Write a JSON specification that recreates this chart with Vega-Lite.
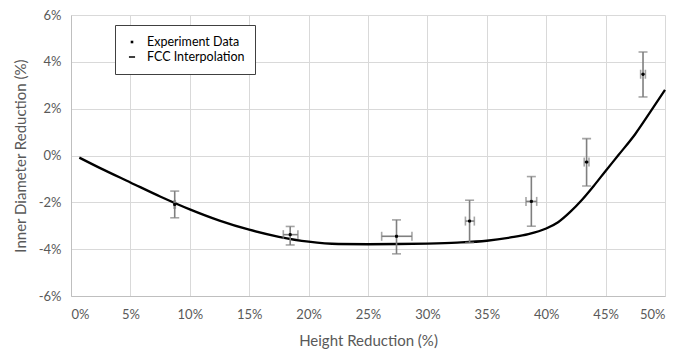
{
  "$schema": "https://vega.github.io/schema/vega-lite/v6.json",
  "width": 594,
  "height": 281,
  "autosize": "none",
  "padding": {"left": 71, "top": 15, "right": 29, "bottom": 55},
  "background": "white",
  "config": {
    "font": "Lato",
    "view": {"stroke": null},
    "axis": {
      "labelFont": "Lato",
      "titleFont": "Lato",
      "labelFontSize": 13,
      "titleFontSize": 15,
      "titleFontWeight": "normal",
      "labelColor": "#595959",
      "titleColor": "#595959",
      "gridColor": "#d9d9d9",
      "gridWidth": 1,
      "domainColor": "#bfbfbf",
      "ticks": false
    },
    "legend": {
      "orient": "none",
      "legendX": 44,
      "legendY": 10,
      "strokeColor": "#404040",
      "strokeWidth": 1,
      "fillColor": "white",
      "padding": 10,
      "labelFont": "Lato",
      "labelFontSize": 12.5,
      "labelColor": "#000000",
      "symbolSize": 150,
      "rowPadding": 1,
      "labelOffset": 8
    }
  },
  "datasets": {
    "curve": [
      {"x": 0.7, "y": -0.09},
      {"x": 2.5, "y": -0.55},
      {"x": 5, "y": -1.15},
      {"x": 7.5, "y": -1.75},
      {"x": 10, "y": -2.3},
      {"x": 12.5, "y": -2.78},
      {"x": 15, "y": -3.17},
      {"x": 17.5, "y": -3.47},
      {"x": 20, "y": -3.68},
      {"x": 22.5, "y": -3.78},
      {"x": 25, "y": -3.79},
      {"x": 27.5, "y": -3.78},
      {"x": 30, "y": -3.76},
      {"x": 32.5, "y": -3.72},
      {"x": 35, "y": -3.64},
      {"x": 37, "y": -3.5},
      {"x": 38.5, "y": -3.36},
      {"x": 40, "y": -3.12},
      {"x": 41, "y": -2.85},
      {"x": 42, "y": -2.42},
      {"x": 43, "y": -1.9},
      {"x": 44, "y": -1.3},
      {"x": 45, "y": -0.66},
      {"x": 46.1, "y": 0.03},
      {"x": 47.5, "y": 0.92},
      {"x": 48.75, "y": 1.85},
      {"x": 50, "y": 2.8}
    ],
    "points": [
      {"x": 8.73, "y": -2.09, "ylo": -2.66, "yhi": -1.52, "xlo": 8.68, "xhi": 8.78, "series": "Experiment Data"},
      {"x": 18.45, "y": -3.38, "ylo": -3.82, "yhi": -3.03, "xlo": 17.87, "xhi": 19.1, "series": "Experiment Data"},
      {"x": 27.4, "y": -3.45, "ylo": -4.2, "yhi": -2.75, "xlo": 26.15, "xhi": 28.7, "series": "Experiment Data"},
      {"x": 33.55, "y": -2.8, "ylo": -3.72, "yhi": -1.91, "xlo": 33.2, "xhi": 33.95, "series": "Experiment Data"},
      {"x": 38.75, "y": -1.96, "ylo": -3.02, "yhi": -0.9, "xlo": 38.3, "xhi": 39.2, "series": "Experiment Data"},
      {"x": 43.4, "y": -0.28, "ylo": -1.3, "yhi": 0.72, "xlo": 43.2, "xhi": 43.6, "series": "Experiment Data"},
      {"x": 48.15, "y": 3.47, "ylo": 2.5, "yhi": 4.42, "xlo": 47.95, "xhi": 48.35, "series": "Experiment Data"}
    ]
  },
  "encoding": {
    "x": {
      "field": "x", "type": "quantitative",
      "scale": {"domain": [0, 50], "nice": false, "zero": false},
      "axis": {"values": [0, 5, 10, 15, 20, 25, 30, 35, 40, 45, 50], "labelExpr": "datum.value + '%'", "title": "Height Reduction (%)", "labelPadding": 12, "titlePadding": 12, "domain": true}
    },
    "y": {
      "field": "y", "type": "quantitative",
      "scale": {"domain": [-6, 6], "nice": false, "zero": false},
      "axis": {"values": [-6, -4, -2, 0, 2, 4, 6], "labelExpr": "datum.value + '%'", "title": "Inner Diameter Reduction (%)", "labelPadding": 10, "titlePadding": 10, "domain": true}
    }
  },
  "layer": [
    {
      "data": {"name": "curve"},
      "mark": {"type": "line", "color": "black", "strokeWidth": 2.3, "interpolate": "monotone"},
      "encoding": {}
    },
    {
      "data": {"name": "points"},
      "mark": {"type": "rule", "color": "#7f7f7f", "strokeWidth": 1.6},
      "encoding": {"y": {"field": "ylo", "type": "quantitative"}, "y2": {"field": "yhi"}}
    },
    {
      "data": {"name": "points"},
      "mark": {"type": "rule", "color": "#7f7f7f", "strokeWidth": 1.6},
      "encoding": {"x": {"field": "xlo", "type": "quantitative"}, "x2": {"field": "xhi"}}
    },
    {
      "data": {"name": "points"},
      "mark": {"type": "tick", "orient": "horizontal", "color": "#7f7f7f", "size": 9, "thickness": 1.6},
      "encoding": {"y": {"field": "ylo", "type": "quantitative"}}
    },
    {
      "data": {"name": "points"},
      "mark": {"type": "tick", "orient": "horizontal", "color": "#7f7f7f", "size": 9, "thickness": 1.6},
      "encoding": {"y": {"field": "yhi", "type": "quantitative"}}
    },
    {
      "data": {"name": "points"},
      "mark": {"type": "tick", "orient": "vertical", "color": "#7f7f7f", "size": 9, "thickness": 1.6},
      "encoding": {"x": {"field": "xlo", "type": "quantitative"}}
    },
    {
      "data": {"name": "points"},
      "mark": {"type": "tick", "orient": "vertical", "color": "#7f7f7f", "size": 9, "thickness": 1.6},
      "encoding": {"x": {"field": "xhi", "type": "quantitative"}}
    },
    {
      "data": {"name": "points"},
      "mark": {"type": "point", "filled": true, "fill": "black", "stroke": "black", "strokeWidth": 1, "opacity": 1, "size": 500},
      "encoding": {
        "shape": {
          "field": "series", "type": "nominal",
          "scale": {"domain": ["Experiment Data", "FCC Interpolation"], "range": ["M-0.09,-0.09H0.09V0.09H-0.09Z", "M-0.5,0H0.5"]},
          "legend": {
            "title": null,
            "encode": {
              "symbols": {
                "update": {
                  "fill": {"value": "black"},
                  "stroke": {"value": "black"},
                  "strokeWidth": {"value": 2},
                  "opacity": {"value": 1},
                  "fillOpacity": {"value": 1},
                  "strokeOpacity": {"value": 1}
                }
              }
            }
          }
        }
      }
    }
  ]
}
